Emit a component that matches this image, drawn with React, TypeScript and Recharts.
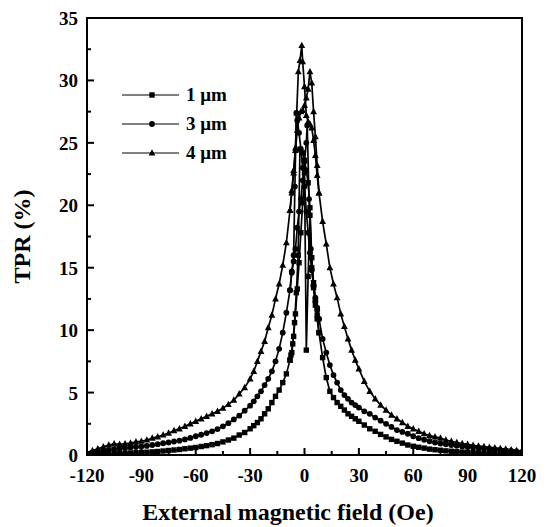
import { ScatterChart, Scatter, XAxis, YAxis, Legend, ReferenceArea } from 'recharts'

// field grid shared by the outer flanks (Oe)
const leftField = [-120, -117, -114, -111, -108, -105, -102, -99, -96, -93, -90, -87, -84, -81, -78, -75, -72, -69, -66, -63, -60, -57, -54, -51, -48, -45, -42, -39, -36, -33, -30, -28, -26, -24, -22, -20, -18, -16, -14, -12, -10, -8]
const rightField = [8, 10, 12, 14, 16, 18, 20, 22, 24, 26, 28, 30, 33, 36, 39, 42, 45, 48, 51, 54, 57, 60, 63, 66, 69, 72, 75, 78, 81, 84, 87, 90, 93, 96, 99, 102, 105, 108, 111, 114, 117, 120]

// 1 um
const left1 = [0.05, 0.05, 0.08, 0.1, 0.1, 0.12, 0.14, 0.15, 0.16, 0.18, 0.2, 0.22, 0.25, 0.28, 0.32, 0.36, 0.4, 0.44, 0.5, 0.55, 0.6, 0.68, 0.75, 0.83, 0.92, 1.05, 1.2, 1.35, 1.6, 1.8, 2.1, 2.35, 2.6, 2.9, 3.3, 3.7, 4.2, 4.7, 5.2, 5.8, 6.5, 7.6]
const right1 = [9.8, 7.8, 6.2, 5.1, 4.6, 4.2, 3.9, 3.6, 3.3, 3.1, 2.9, 2.7, 2.4, 2.1, 1.9, 1.65, 1.45, 1.25, 1.1, 0.95, 0.8, 0.7, 0.62, 0.55, 0.47, 0.42, 0.38, 0.33, 0.3, 0.26, 0.23, 0.21, 0.19, 0.17, 0.15, 0.13, 0.12, 0.1, 0.1, 0.08, 0.07, 0.05]
const upField1 = [-7, -6, -5, -4, -3, -2, -1, 0, 1, 2, 3, 4, 5, 6, 7]
const up1 = [8.2, 9.5, 11.3, 13.3, 15.4, 17.8, 20.2, 22.6, 8.4, 14.3, 19.2, 15.0, 13.4, 12.0, 10.9]
const downField1 = [7, 6, 5, 4, 3, 2, 1, 0, -1, -2.5, -3.5, -4.5, -5.5, -6.5, -7.5]
const down1 = [11.2, 12.4, 13.8, 15.8, 19.8, 21.8, 22.8, 23.6, 24.2, 24.5, 16.0, 13.0, 10.6, 8.9, 8.0]

// 3 um
const left3 = [0.1, 0.18, 0.25, 0.33, 0.4, 0.48, 0.52, 0.56, 0.6, 0.64, 0.68, 0.73, 0.8, 0.87, 0.94, 1.0, 1.08, 1.15, 1.25, 1.37, 1.5, 1.62, 1.76, 1.9, 2.08, 2.3, 2.55, 2.85, 3.15, 3.55, 3.95, 4.3, 4.7, 5.1, 5.6, 6.1, 6.7, 7.5, 8.5, 9.8, 11.4, 13.2]
const right3 = [10.9, 9.3, 8.2, 7.2, 6.4, 5.8, 5.2, 4.8, 4.5, 4.2, 4.0, 3.8, 3.5, 3.3, 3.0, 2.75, 2.5, 2.25, 2.0, 1.85, 1.7, 1.5, 1.35, 1.22, 1.1, 1.0, 0.92, 0.86, 0.8, 0.74, 0.68, 0.64, 0.6, 0.56, 0.52, 0.48, 0.45, 0.41, 0.37, 0.33, 0.29, 0.25]
const upField3 = [-7, -6, -5, -4, -3, -2, -1, 0, 1, 1.5, 2.5, 3.5, 5, 6, 7]
const up3 = [14.7, 15.5, 16.5, 18.2, 19.5, 20.5, 22.0, 23.5, 25.0, 26.4, 20.5, 16.5, 13.5, 12.3, 11.6]
const downField3 = [7, 6, 5, 4, 3, 2, 1, 0, -1, -2, -3, -4, -4.5, -5.3, -6, -7]
const down3 = [11.8, 12.6, 13.6, 14.8, 16.2, 17.8, 19.5, 21.5, 23.0, 24.5, 25.8, 26.8, 27.4, 21.5, 16.0, 14.6]

// 4 um
const left4 = [0.2, 0.35, 0.5, 0.65, 0.8, 0.9, 0.85, 0.9, 0.95, 1.05, 1.1, 1.2, 1.35, 1.45, 1.6, 1.75, 1.95, 2.1, 2.3, 2.5, 2.7, 2.9, 3.1, 3.3, 3.5, 3.75, 4.05, 4.4, 4.9, 5.4, 6.1, 6.7, 7.5, 8.3, 9.1, 10.2, 11.2, 12.5, 13.7, 15.2, 17.0, 19.6]
const right4 = [21.0, 18.7, 16.9, 15.0, 13.7, 12.6, 11.3, 10.3, 9.3, 8.4, 7.6, 6.9, 5.9, 5.1, 4.5, 4.0, 3.6, 3.2, 2.9, 2.6, 2.3, 2.1, 1.9, 1.7, 1.55, 1.45, 1.35, 1.2, 1.1, 1.0, 0.92, 0.85, 0.78, 0.72, 0.67, 0.62, 0.57, 0.52, 0.47, 0.42, 0.36, 0.3]
const upField4 = [-7, -6, -5, -4, -3, -2, -1, 0, 1, 2, 3, 4, 5, 6, 7]
const up4 = [21.0, 22.6, 24.4, 26.0, 27.0, 27.5, 27.6, 28.0, 28.6, 29.3, 30.7, 29.8, 27.5, 25.5, 23.2]
const downField4 = [7, 6, 5, 4, 3, 2, 1, 0, -1, -1.5, -2.5, -3.4, -4.3, -5, -6, -7]
const down4 = [22.4, 24.0, 25.2, 26.2, 26.5, 26.7, 27.2, 29.5, 31.5, 32.8, 31.6, 30.7, 27.4, 24.6, 22.8, 21.2]

const xTicks = [-120, -105, -90, -75, -60, -45, -30, -15, 0, 15, 30, 45, 60, 75, 90, 105, 120]
const yTicks = [0, 2.5, 5, 7.5, 10, 12.5, 15, 17.5, 20, 22.5, 25, 27.5, 30, 32.5, 35]
const legendItems = [
  { label: '1 μm', kind: 'square' },
  { label: '3 μm', kind: 'circle' },
  { label: '4 μm', kind: 'triangle' },
]

const FONT = '"Liberation Serif", "Times New Roman", serif'

const pts = (hs: number[], vs: number[]) => hs.map((h, i) => ({ h, v: vs[i] }))

function branches(left: number[], right: number[], upF: number[], up: number[], downF: number[], down: number[]) {
  const l = pts(leftField, left)
  const r = pts(rightField, right)
  return {
    up: [...l, ...pts(upF, up), ...r],
    down: [r[0], ...pts(downF, down), l[l.length - 1]],
  }
}

const s1 = branches(left1, right1, upField1, up1, downField1, down1)
const s3 = branches(left3, right3, upField3, up3, downField3, down3)
const s4 = branches(left4, right4, upField4, up4, downField4, down4)

function Marker({ kind, cx, cy }: { kind: string; cx: number; cy: number }) {
  if (cx == null || cy == null) return null
  if (kind === 'square') return <rect x={cx - 2.7} y={cy - 2.7} width={5.4} height={5.4} fill="#000" />
  if (kind === 'circle') return <circle cx={cx} cy={cy} r={2.9} fill="#000" />
  return <path d={`M${cx},${cy - 3.8} L${cx + 3.4},${cy + 2.6} L${cx - 3.4},${cy + 2.6} Z`} fill="#000" />
}

function XTick({ x, y, payload }: any) {
  const major = payload.value % 30 === 0
  return (
    <g>
      <line x1={x} y1={y} x2={x} y2={y - (major ? 7 : 4)} stroke="#000" strokeWidth={2} />
      {major && (
        <text x={x} y={y + 27} textAnchor="middle" fontFamily={FONT} fontWeight="bold" fontSize={19} fill="#000">
          {payload.value}
        </text>
      )}
    </g>
  )
}

function YTick({ x, y, payload }: any) {
  const major = payload.value % 5 === 0
  return (
    <g>
      <line x1={x} y1={y} x2={x + (major ? 7 : 4)} y2={y} stroke="#000" strokeWidth={2} />
      {major && (
        <text x={x - 9} y={y + 7} textAnchor="end" fontFamily={FONT} fontWeight="bold" fontSize={19} fill="#000">
          {payload.value}
        </text>
      )}
    </g>
  )
}

function LegendBox() {
  return (
    <div style={{ fontFamily: FONT, fontWeight: 'bold', fontSize: 19 }}>
      {legendItems.map(it => (
        <div key={it.label} style={{ display: 'flex', alignItems: 'center', height: 29 }}>
          <svg width={64} height={14}>
            <line x1={0} y1={7} x2={57} y2={7} stroke="#000" strokeWidth={1} />
            <Marker kind={it.kind} cx={30} cy={7} />
          </svg>
          <span>{it.label}</span>
        </div>
      ))}
    </div>
  )
}

const lineStyle = { stroke: '#000', strokeWidth: 1.7 }

export default function App() {
  const series = [
    { d: s1.up, kind: 'square', name: '1 μm' },
    { d: s1.down, kind: 'square', name: '1 μm b' },
    { d: s3.up, kind: 'circle', name: '3 μm' },
    { d: s3.down, kind: 'circle', name: '3 μm b' },
    { d: s4.up, kind: 'triangle', name: '4 μm' },
    { d: s4.down, kind: 'triangle', name: '4 μm b' },
  ]
  return (
    <div style={{ position: 'absolute', left: 0, top: 0, width: 550, height: 527, background: '#fff' }}>
      <ScatterChart width={550} height={527} margin={{ top: 18, right: 28, left: 0, bottom: 0 }}>
        <XAxis
          type="number"
          dataKey="h"
          domain={[-120, 120]}
          ticks={xTicks}
          interval={0}
          height={72}
          tickSize={0}
          tickMargin={0}
          tick={<XTick />}
          axisLine={false}
          allowDataOverflow
          label={({ viewBox }: any) => (
            <text x={viewBox.x + 201} y={viewBox.y + 65} textAnchor="middle" fontFamily={FONT} fontWeight="bold" fontSize={24} fill="#000">
              External magnetic field (Oe)
            </text>
          )}
        />
        <YAxis
          type="number"
          dataKey="v"
          domain={[0, 35]}
          ticks={yTicks}
          interval={0}
          width={87}
          tickSize={0}
          tickMargin={0}
          tick={<YTick />}
          axisLine={false}
          allowDataOverflow
          label={({ viewBox }: any) => (
            <text
              x={0}
              y={0}
              transform={`translate(${viewBox.x + 30}, ${viewBox.y + viewBox.height / 2}) rotate(-90)`}
              textAnchor="middle"
              fontFamily={FONT}
              fontWeight="bold"
              fontSize={24}
              fill="#000"
            >
              TPR (%)
            </text>
          )}
        />
        <ReferenceArea x1={-120} x2={120} y1={0} y2={35} fill="none" stroke="#000" strokeWidth={2} ifOverflow="visible" />
        {series.map(s => (
          <Scatter
            key={s.name}
            name={s.name}
            data={s.d}
            line={lineStyle}
            lineType="joint"
            isAnimationActive={false}
            legendType="none"
            shape={(p: any) => <Marker kind={s.kind} cx={p.cx} cy={p.cy} />}
          />
        ))}
        <Legend
          layout="vertical"
          align="center"
          verticalAlign="middle"
          content={() => <LegendBox />}
          wrapperStyle={{ position: 'absolute', left: 122, top: 80, width: 120 }}
        />
      </ScatterChart>
    </div>
  )
}
